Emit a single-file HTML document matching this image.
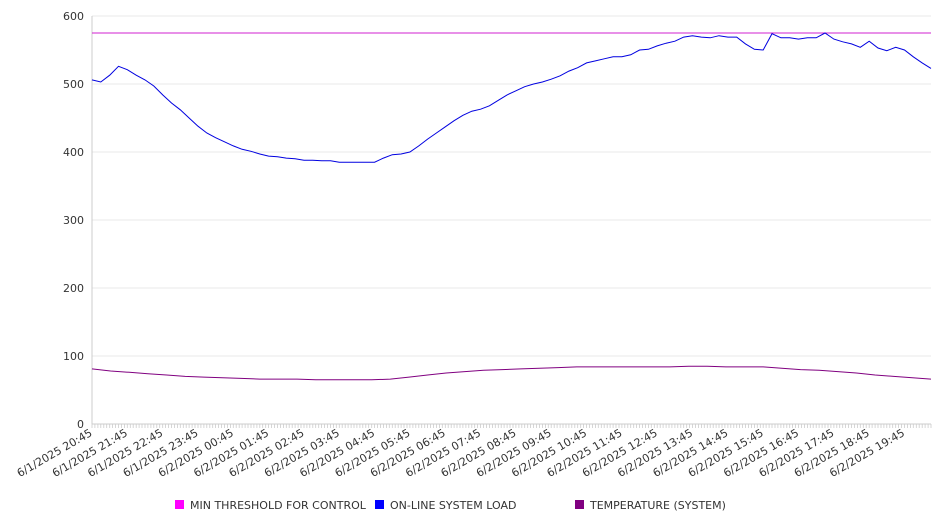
<!DOCTYPE html>
<html><head><meta charset="utf-8"><style>
body{margin:0;background:#fff;}
svg{display:block;font-family:"DejaVu Sans","Liberation Sans",sans-serif;}
</style></head><body>
<svg id="chart" width="946" height="526"></svg>
<script>
const yTicks=[0,100,200,300,400,500,600];
const hourLabels=["6/1/2025 20:45","6/1/2025 21:45","6/1/2025 22:45","6/1/2025 23:45","6/2/2025 00:45","6/2/2025 01:45","6/2/2025 02:45","6/2/2025 03:45","6/2/2025 04:45","6/2/2025 05:45","6/2/2025 06:45","6/2/2025 07:45","6/2/2025 08:45","6/2/2025 09:45","6/2/2025 10:45","6/2/2025 11:45","6/2/2025 12:45","6/2/2025 13:45","6/2/2025 14:45","6/2/2025 15:45","6/2/2025 16:45","6/2/2025 17:45","6/2/2025 18:45","6/2/2025 19:45"];
const threshold=[575,575];
const load=[506,503,513,526,521,513,506,497,484,472,462,450,438,428,421,415,409,404,401,397,394,393,391,390,388,388,387,387,385,385,385,385,385,391,396,397,400,409,419,428,437,446,454,460,463,468,476,484,490,496,500,503,507,512,519,524,531,534,537,540,540,543,550,551,556,560,563,569,571,569,568,571,569,569,559,551,550,574,568,568,566,568,568,575,566,562,559,554,563,553,549,554,550,540,531,523];
const temp=[81,78,76,74,72,70,69,68,67,66,66,66,65,65,65,65,66,69,72,75,77,79,80,81,82,83,84,84,84,84,84,84,85,85,84,84,84,82,80,79,77,75,72,70,68,66];
const NS="http://www.w3.org/2000/svg";
const svg=document.getElementById('chart');
const X0=92,X1=931,Y0=424,Y1=16;
const steps=95; // 15-minute steps
const xs=i=>X0+i*(X1-X0)/steps;
const ys=v=>Y0-(v/600)*(Y0-Y1);
function mk(t,a){const e=document.createElementNS(NS,t);for(const k in a)e.setAttribute(k,a[k]);svg.appendChild(e);return e;}
yTicks.forEach(v=>{
 const g=mk('line',{x1:X0,x2:X1,y1:ys(v),y2:ys(v),stroke:v===0?'#ccc':'#e8e8e8','stroke-width':1});
 
 
 const t=mk('text',{x:84,y:ys(v)+4,'text-anchor':'end','font-size':11,fill:'#333'});
 t.textContent=v;
 
 
});
const ax=mk('line',{x1:X0,x2:X0,y1:Y1,y2:Y0,stroke:'#ccc'});


let d='';
for(let i=0;i<=steps*3;i++){const x=X0+i*(X1-X0)/(steps*3);d+='M'+x.toFixed(1)+' '+Y0+'v4';}
const mt=mk('path',{d:d,stroke:'#ccc','stroke-width':0.8});


hourLabels.forEach((l,i)=>{
 const x=xs(i*4)+1,y=Y0+11;
 const t=mk('text',{x:x,y:y,'text-anchor':'end','font-size':11,fill:'#333',transform:`rotate(-30 ${x} ${y})`});
 t.textContent=l;
 
 
});
function line(arr,stepScale,color,name){
 const p=arr.map((v,i)=>(i?'L':'M')+xs(i*stepScale).toFixed(1)+' '+ys(v).toFixed(1)).join('');
 const e=mk('path',{d:p,fill:'none',stroke:color,'stroke-width':1});
 
 
}
line(threshold,steps,'#d020d0','threshold-line');
line(temp,steps/(temp.length-1),'#800080','temperature-line');
line(load,steps/(load.length-1),'#0000e0','load-line');
const leg=[['MIN THRESHOLD FOR CONTROL','#ff00ff',175],['ON-LINE SYSTEM LOAD','#0000ff',375],['TEMPERATURE (SYSTEM)','#800080',575]];
leg.forEach(([n,c,x])=>{
 const r=mk('rect',{x:x,y:500,width:9,height:9,fill:c});
 
 
 const t=mk('text',{x:x+15,y:509,'font-size':11,fill:'#333'});
 t.textContent=n;
 
 
});
</script>
</body></html>
